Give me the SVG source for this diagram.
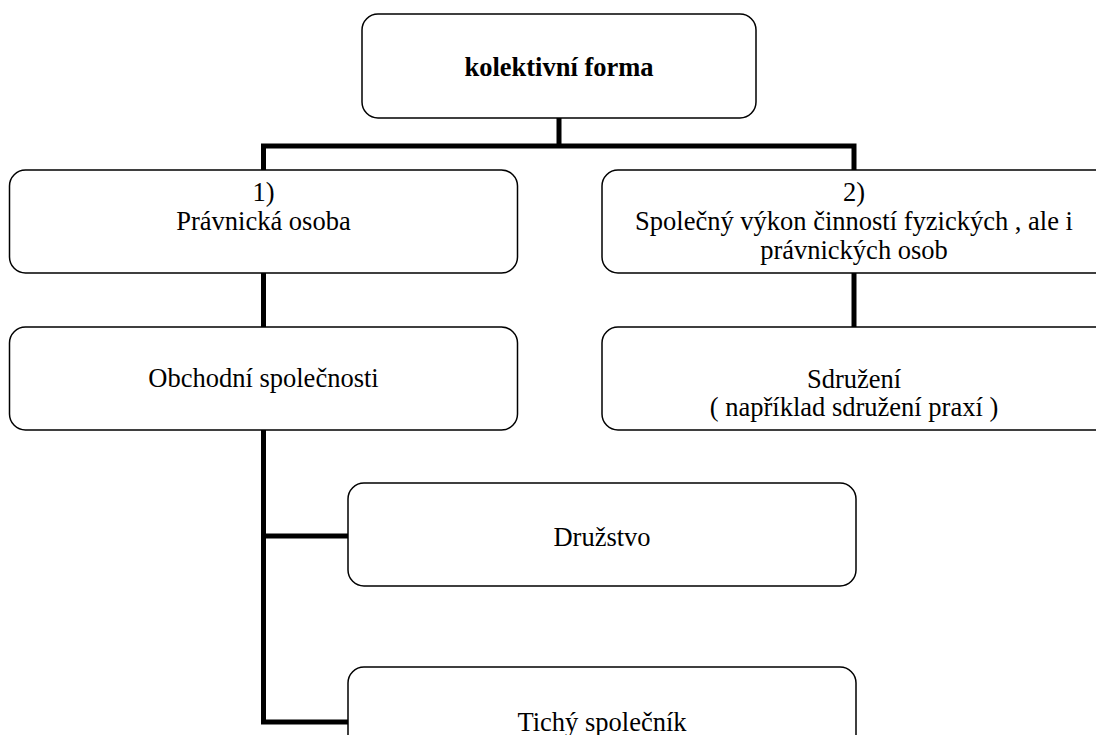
<svg xmlns="http://www.w3.org/2000/svg" width="1096" height="735" viewBox="0 0 1096 735">
<style>
.box{fill:#fff;stroke:#000;stroke-width:1.5}
.t{font-family:"Liberation Serif","Times New Roman",serif;font-size:26.5px;fill:#000;text-anchor:middle}
.b{font-weight:bold}
.c{fill:none;stroke:#000;stroke-width:5;stroke-linejoin:miter}
</style>
<rect width="1096" height="735" fill="#fff"/>
<g id="connectors">
<path class="c" d="M559,118 V146 M263.5,170 V146 H854 V170"/>
<path class="c" d="M263.5,273 V327"/>
<path class="c" d="M854,273 V327"/>
<path class="c" d="M263.5,430 V722 H348 M263.5,536 H348"/>
</g>
<g id="root">
<rect class="box" x="362" y="14" width="394" height="104" rx="16"/>
<text class="t b" x="559" y="76">kolektivní forma</text>
</g>
<g id="pravnicka">
<rect class="box" x="9.5" y="170" width="508" height="103" rx="16"/>
<text class="t" x="263.5" y="201">1)</text>
<text class="t" x="263.5" y="230">Právnická osoba</text>
</g>
<g id="spolecny">
<rect class="box" x="602" y="170" width="508" height="103" rx="16"/>
<text class="t" x="854" y="201">2)</text>
<text class="t" x="854" y="230">Společný výkon činností fyzických , ale i</text>
<text class="t" x="854" y="259">právnických osob</text>
</g>
<g id="obchodni">
<rect class="box" x="9.5" y="327" width="508" height="103" rx="16"/>
<text class="t" x="263.5" y="387">Obchodní společnosti</text>
</g>
<g id="sdruzeni">
<rect class="box" x="602" y="327" width="508" height="103" rx="16"/>
<text class="t" x="854" y="388">Sdružení</text>
<text class="t" x="854" y="416">( například sdružení praxí )</text>
</g>
<g id="druzstvo">
<rect class="box" x="348" y="483" width="508" height="103" rx="16"/>
<text class="t" x="602" y="546">Družstvo</text>
</g>
<g id="tichy">
<rect class="box" x="348" y="667" width="508" height="103" rx="16"/>
<text class="t" x="602" y="731">Tichý společník</text>
</g>
</svg>
